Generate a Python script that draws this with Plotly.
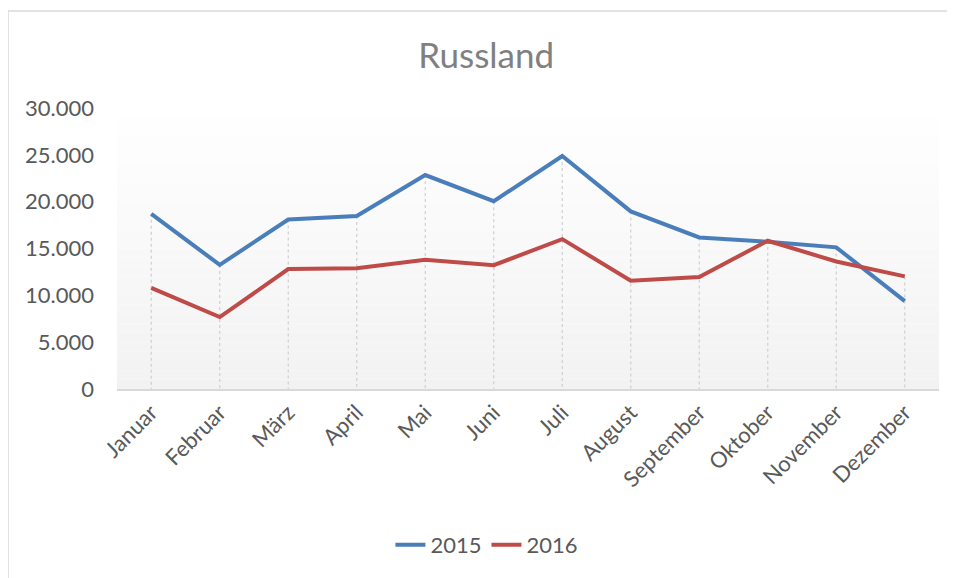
import plotly.graph_objects as go

months = ["Januar", "Februar", "März", "April", "Mai", "Juni", "Juli",
          "August", "September", "Oktober", "November", "Dezember"]
values_2015 = [18700, 13250, 18100, 18470, 22840, 20050, 24880, 18960, 16180, 15720, 15120, 9380]
values_2016 = [10790, 7680, 12800, 12900, 13790, 13220, 16000, 11560, 11950, 15830, 13610, 12020]
series_names = ["2015", "2016"]
y_ticks = [0, 5000, 10000, 15000, 20000, 25000, 30000]

FONT = "Lato"
fig = go.Figure()

# drop lines from the highest point of each category down to the axis
dx, dy = [], []
for m, a, b in zip(months, values_2015, values_2016):
    dx += [m, m, None]
    dy += [max(a, b), 0, None]
fig.add_trace(go.Scatter(x=dx, y=dy, mode="lines", showlegend=False, hoverinfo="skip",
                         line=dict(color="#cfcfcf", width=1.2, dash="dot")))

fig.add_trace(go.Scatter(x=months, y=values_2015, name=series_names[0], mode="lines",
                         line=dict(color="#4A7EBB", width=4)))
fig.add_trace(go.Scatter(x=months, y=values_2016, name=series_names[1], mode="lines",
                         line=dict(color="#BE4B48", width=4)))

# gradient plot background (bands)
shapes = []
N = 30
for i in range(N):
    t = i / N
    g = int(round(242 + (255 - 242) * (t + 0.5 / N)))
    g = min(255, g)
    shapes.append(dict(type="rect", xref="x domain", yref="y domain",
                       x0=0, x1=1, y0=t, y1=(i + 1) / N,
                       fillcolor=f"rgb({g},{g},{g})", line=dict(width=0), layer="below"))

# chart border (top and left visible)
shapes.append(dict(type="line", xref="paper", yref="paper", x0=-0.1326, x1=1.03,
                   y0=1.345, y1=1.345, line=dict(color="#d9d9d9", width=1.5)))
shapes.append(dict(type="line", xref="paper", yref="paper", x0=-0.1326, x1=-0.1326,
                   y0=1.345, y1=-0.7, line=dict(color="#d9d9d9", width=1.5)))

fig.update_layout(
    width=947, height=570,
    margin=dict(l=109, r=16, t=100, b=186),
    paper_bgcolor="white", plot_bgcolor="rgba(0,0,0,0)",
    separators=",.",
    font=dict(family=FONT, color="#595959", size=22),
    title=dict(text="Russland", x=0.505, xanchor="center", y=1 - 48 / 570, yanchor="middle",
               font=dict(family=FONT, size=35, color="#808080")),
    shapes=shapes,
    showlegend=True,
    legend=dict(orientation="h", x=0.45, xanchor="center", y=-0.555, yanchor="middle",
                font=dict(family=FONT, size=22, color="#595959"),
                bgcolor="rgba(0,0,0,0)"),
    xaxis=dict(type="category", categoryorder="array", categoryarray=months,
               range=[-0.5, 11.5], tickangle=-45, showgrid=False, zeroline=False,
               showline=True, linecolor="#d9d9d9", linewidth=2, ticks="",
               tickfont=dict(family=FONT, size=22, color="#595959")),
    yaxis=dict(range=[0, 30000], tickvals=y_ticks, tickformat=",d", showgrid=False,
               zeroline=False, showline=False, ticks="", ticklabelstandoff=22,
               tickfont=dict(family=FONT, size=22, color="#595959")),
)

fig.write_html("out.html")
